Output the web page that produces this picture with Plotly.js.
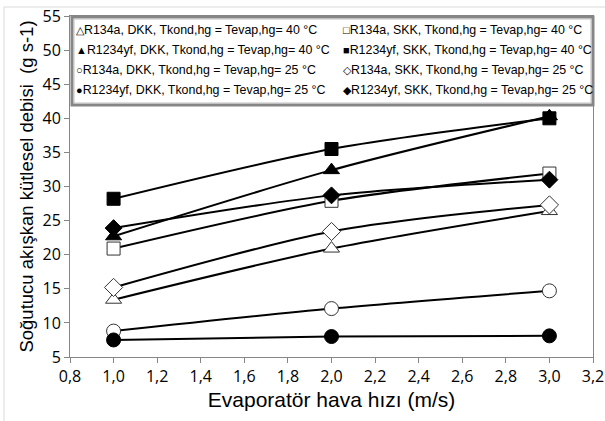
<!DOCTYPE html>
<html><head><meta charset="utf-8">
<script src="https://cdn.plot.ly/plotly-3.0.1.min.js"></script>
<style>html,body{margin:0;padding:0;background:#fff}#chart{width:605px;height:421px}</style>
</head><body><div id="chart"></div>
<script>
// Data
const airSpeed = [1.0, 2.0, 3.0];
const r134a_DKK_40 = [13.4, 20.9, 26.4];
const r134a_SKK_40 = [20.9, 27.9, 31.9];
const r1234yf_DKK_40 = [22.7, 32.4, 40.3];
const r1234yf_SKK_40 = [28.2, 35.5, 40.0];
const r134a_DKK_25 = [8.8, 12.1, 14.7];
const r134a_SKK_25 = [15.2, 23.4, 27.3];
const r1234yf_DKK_25 = [7.5, 8.0, 8.1];
const r1234yf_SKK_25 = [23.9, 28.7, 31.0];
const seriesNames = [
  "R134a, DKK, Tkond,hg = Tevap,hg= 40 °C",
  "R134a, SKK, Tkond,hg = Tevap,hg= 40 °C",
  "R1234yf, DKK, Tkond,hg = Tevap,hg= 40 °C",
  "R1234yf, SKK, Tkond,hg = Tevap,hg= 40 °C",
  "R134a, DKK, Tkond,hg = Tevap,hg= 25 °C",
  "R134a, SKK, Tkond,hg = Tevap,hg= 25 °C",
  "R1234yf, DKK, Tkond,hg = Tevap,hg= 25 °C",
  "R1234yf, SKK, Tkond,hg = Tevap,hg= 25 °C"
];
const seriesValues = [r134a_DKK_40, r134a_SKK_40, r1234yf_DKK_40, r1234yf_SKK_40,
                      r134a_DKK_25, r134a_SKK_25, r1234yf_DKK_25, r1234yf_SKK_25];
const xTicks = [0.8,1.0,1.2,1.4,1.6,1.8,2.0,2.2,2.4,2.6,2.8,3.0,3.2];
const yTicks = [5,10,15,20,25,30,35,40,45,50,55];

// Styles
const symbols = ['triangle-up-open','square-open','triangle-up','square','circle-open','diamond-open','circle','diamond'];
const sizes = [14,13,14,13,14,14,14,13];
const glyphs = ['△','□','▲','■','○','◇','●','◆'];
const drawOrder = [4,6,0,5,1,7,2,3];

const traces = drawOrder.map(i => {
  const open = symbols[i].endsWith('-open');
  return {
    x: airSpeed, y: seriesValues[i], name: seriesNames[i],
    type: 'scatter', mode: 'lines+markers',
    line: {color: '#000', width: 2, shape: 'spline', smoothing: 0.8},
    marker: {
      symbol: open ? symbols[i].replace('-open','') : symbols[i],
      size: sizes[i],
      color: open ? '#fff' : '#000',
      line: {color: open ? '#333' : '#000', width: 1}
    },
    showlegend: false
  };
});

// pixel -> paper helpers
const L = 70, R = 593, T = 16, B = 357;
const px = p => (p - L) / (R - L);
const py = p => (B - p) / (B - T);

const legendRows = [30, 50, 70, 90];
const legendCols = [74, 341];
const annotations = seriesNames.map((n, i) => ({
  xref: 'paper', yref: 'paper',
  x: px(legendCols[i % 2]), y: py(legendRows[Math.floor(i / 2)]),
  xanchor: 'left', yanchor: 'middle', showarrow: false,
  text: '<span style="font-size:11px">' + glyphs[i] + '</span>' + n,
  font: {family: 'Liberation Sans, Arial, sans-serif', size: 12.4, color: '#000'}
}));

const layout = {
  width: 605, height: 421,
  margin: {l: L, r: 605 - R, t: T, b: 421 - B},
  paper_bgcolor: '#fff', plot_bgcolor: '#fff',
  separators: ', ',
  showlegend: false,
  xaxis: {
    range: [0.8, 3.2], tickvals: xTicks, tickformat: '.1f',
    showgrid: false, zeroline: false,
    showline: true, linecolor: '#868686', linewidth: 1, mirror: true,
    ticks: 'outside', ticklen: 5, tickcolor: '#868686',
    tickfont: {family: 'Open Sans, sans-serif', size: 16, color: '#000'},
    title: {text: 'Evaporatör hava hızı (m/s)', standoff: 6,
            font: {family: 'Liberation Sans, Arial, sans-serif', size: 21, color: '#000'}}
  },
  yaxis: {
    range: [5, 55], tickvals: yTicks,
    showgrid: false, zeroline: false,
    showline: true, linecolor: '#868686', linewidth: 1, mirror: true,
    ticks: 'outside', ticklen: 5, tickcolor: '#868686',
    tickfont: {family: 'Open Sans, sans-serif', size: 16, color: '#000'},
    title: {text: 'Soğutucu akışkan kütlesel debisi  (g s-1)', standoff: 4,
            font: {family: 'Liberation Sans, Arial, sans-serif', size: 18.5, color: '#000'}}
  },
  shapes: [
    {type: 'rect', xref: 'paper', yref: 'paper', x0: px(4), x1: px(640), y0: py(440), y1: py(7),
     line: {color: '#d9d9d9', width: 1}, fillcolor: 'rgba(0,0,0,0)', layer: 'below'},
    {type: 'rect', xref: 'paper', yref: 'paper', x0: px(72), x1: px(593), y0: py(105), y1: py(17),
     line: {color: '#868686', width: 3}, fillcolor: '#fff', layer: 'above'},
    {type: 'rect', xref: 'paper', yref: 'paper', x0: px(74), x1: px(591), y0: py(103), y1: py(19),
     line: {color: '#bfbfbf', width: 1}, fillcolor: 'rgba(0,0,0,0)', layer: 'above'}
  ],
  annotations: annotations
};

Plotly.newPlot('chart', traces, layout, {displayModeBar: false, staticPlot: true});
</script></body></html>
